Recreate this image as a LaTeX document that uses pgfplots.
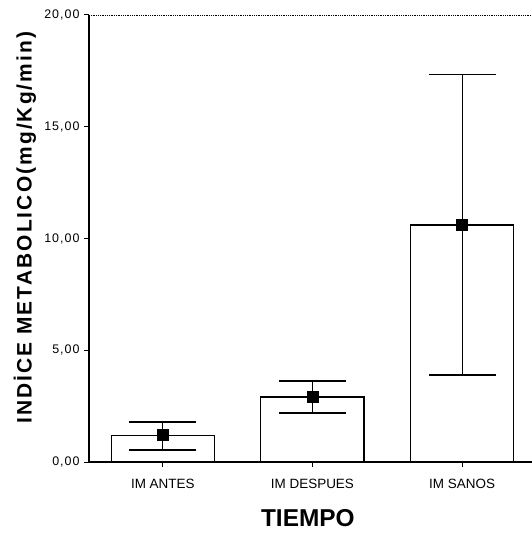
\documentclass[border=0pt]{standalone}
\usepackage{fontspec}
\setmainfont{Liberation Sans}
\usepackage{pgfplots}
\pgfplotsset{compat=1.18}

\begin{document}
\begin{tikzpicture}
\begin{axis}[
  name=ax,
  scale only axis,
  width=443bp, height=447bp,
  xmin=-0.493, xmax=2.467,
  ymin=0, ymax=20,
  axis lines=left,
  axis line style={-, line width=1.2pt},
  xtick={0,1,2},
  xticklabels={IM ANTES, IM DESPUES, IM SANOS},
  ytick={0,5,10,15,20},
  yticklabels={{0,00},{5,00},{10,00},{15,00},{20,00}},
  tick align=outside,
  major tick length=5bp,
  tick style={black, line width=1pt},
  y tick label style={font=\addfontfeature{LetterSpace=8}\fontsize{12.5}{14}\selectfont, xshift=-1bp},
  x tick label style={font=\fontsize{13.5}{15}\selectfont, yshift=-9bp},
  ylabel={INDİCE METABOLICO(mg/Kg/min)},
  ylabel style={font=\bfseries\addfontfeature{LetterSpace=10}\fontsize{21}{23}\selectfont,
    at={(axis description cs:-0.1445,0.524)}, anchor=center, rotate=0},
  xlabel={TIEMPO},
  xlabel style={font=\bfseries\fontsize{24.5}{27}\selectfont,
    at={(axis description cs:0.494,-0.125)}, anchor=center},
  clip=false,
]
\addplot[ybar, bar width=0.69, fill=white, draw=black, line width=1.2pt,
  error bars/.cd, y dir=both, y explicit,
  error bar style={line width=1.2pt, black},
  error mark options={rotate=90, mark size=33.5bp, line width=1.2pt, black}]
  table[x=x, y=y, y error plus=ep, y error minus=em] {
    x y    ep   em
    0 1.20 0.59 0.66
    1 2.91 0.71 0.72
    2 10.60 6.74 6.71
  };
\addplot[only marks, mark=square*, mark size=5.5bp, black]
  coordinates {(0,1.20) (1,2.91) (2,10.60)};
\draw[line width=0.8pt, densely dotted, black] (axis description cs:0,1) -- (axis description cs:1,1);
\end{axis}
\pgfresetboundingbox
\path ([xshift=-89bp,yshift=-73bp]ax.south west) rectangle ([yshift=15bp]ax.north east);
\end{tikzpicture}
\end{document}
